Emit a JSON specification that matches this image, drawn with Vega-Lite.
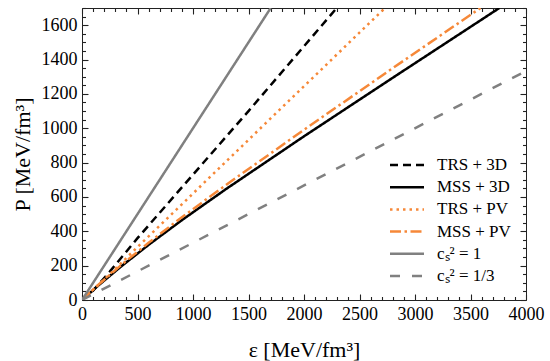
{
  "$schema": "https://vega.github.io/schema/vega-lite/v6.json",
  "width": 444,
  "height": 292,
  "autosize": {"type": "none"},
  "padding": {"left": 82, "top": 8, "right": 24, "bottom": 61},
  "config": {
    "view": {"stroke": "#222", "strokeWidth": 1},
    "axis": {
      "grid": false, "domain": false, "ticks": true, "zindex": 1,
      "labelFont": "Liberation Serif", "titleFont": "Liberation Serif",
      "labelFontSize": 18, "titleFontSize": 22,
      "labelColor": "#000", "titleColor": "#000", "tickColor": "#222",
      "titleFontWeight": "normal", "tickWidth": 1.1, "labelFlush": false
    }
  },
  "data": {"values": [
    {"series": "TRS + 3D", "eps": 0, "P": 0},
    {"series": "TRS + 3D", "eps": 100, "P": 55},
    {"series": "TRS + 3D", "eps": 250, "P": 165},
    {"series": "TRS + 3D", "eps": 500, "P": 360},
    {"series": "TRS + 3D", "eps": 1000, "P": 730},
    {"series": "TRS + 3D", "eps": 1500, "P": 1100},
    {"series": "TRS + 3D", "eps": 2295, "P": 1700},
    {"series": "MSS + 3D", "eps": 0, "P": 0},
    {"series": "MSS + 3D", "eps": 150, "P": 86},
    {"series": "MSS + 3D", "eps": 350, "P": 194},
    {"series": "MSS + 3D", "eps": 600, "P": 321},
    {"series": "MSS + 3D", "eps": 900, "P": 465},
    {"series": "MSS + 3D", "eps": 1300, "P": 647},
    {"series": "MSS + 3D", "eps": 2000, "P": 953},
    {"series": "MSS + 3D", "eps": 2800, "P": 1294},
    {"series": "MSS + 3D", "eps": 3760, "P": 1700},
    {"series": "TRS + PV", "eps": 0, "P": 0},
    {"series": "TRS + PV", "eps": 250, "P": 150},
    {"series": "TRS + PV", "eps": 500, "P": 308},
    {"series": "TRS + PV", "eps": 1000, "P": 620},
    {"series": "TRS + PV", "eps": 1600, "P": 995},
    {"series": "TRS + PV", "eps": 2730, "P": 1700},
    {"series": "MSS + PV", "eps": 0, "P": 0},
    {"series": "MSS + PV", "eps": 150, "P": 90},
    {"series": "MSS + PV", "eps": 350, "P": 202},
    {"series": "MSS + PV", "eps": 600, "P": 333},
    {"series": "MSS + PV", "eps": 900, "P": 482},
    {"series": "MSS + PV", "eps": 1300, "P": 671},
    {"series": "MSS + PV", "eps": 2000, "P": 991},
    {"series": "MSS + PV", "eps": 2800, "P": 1350},
    {"series": "MSS + PV", "eps": 3590, "P": 1700},
    {"series": "cₛ² = 1", "eps": 0, "P": 0},
    {"series": "cₛ² = 1", "eps": 1700, "P": 1700},
    {"series": "cₛ² = 1/3", "eps": 0, "P": 0},
    {"series": "cₛ² = 1/3", "eps": 4000, "P": 1333.3}
  ]},
  "layer": [
    {
      "mark": {"type": "line", "clip": true, "strokeWidth": 2.5},
      "encoding": {
        "x": {"field": "eps", "type": "quantitative",
          "scale": {"domain": [0, 4000], "nice": false, "zero": false},
          "axis": {"orient": "bottom", "values": [0, 500, 1000, 1500, 2000, 2500, 3000, 3500, 4000], "format": "d",
            "labelFont": "Liberation Serif", "titleFont": "Liberation Serif", "labelFontSize": 18, "titleFontSize": 22,
            "offset": -6, "tickSize": 6, "labelPadding": 5, "title": "ε [MeV/fm³]",
            "titleX": 222, "titleY": 55, "titleBaseline": "middle", "titleAlign": "center"}},
        "y": {"field": "P", "type": "quantitative",
          "scale": {"domain": [0, 1700], "nice": false, "zero": false},
          "axis": {"orient": "left", "values": [0, 200, 400, 600, 800, 1000, 1200, 1400, 1600], "format": "d",
            "labelFont": "Liberation Serif", "titleFont": "Liberation Serif", "labelFontSize": 18, "titleFontSize": 22,
            "offset": -6, "tickSize": 6, "labelPadding": 5, "title": "P [MeV/fm³]",
            "titleX": -66, "titleY": 146, "titleAngle": -90, "titleBaseline": "middle", "titleAlign": "center"}},
        "color": {"field": "series", "type": "nominal",
          "scale": {"domain": ["TRS + 3D", "MSS + 3D", "TRS + PV", "MSS + PV", "cₛ² = 1", "cₛ² = 1/3"],
            "range": ["#000000", "#000000", "#f68838", "#f68838", "#808080", "#808080"]},
          "legend": {"title": null, "orient": "none", "legendX": 315, "legendY": 147,
            "symbolType": "M-2,0H2", "symbolSize": 289, "symbolStrokeWidth": 2.5,
            "labelFont": "Liberation Serif", "labelFontSize": 17, "labelColor": "#000",
            "labelOffset": 20, "rowPadding": 4.2, "padding": 0, "labelLimit": 300}},
        "strokeDash": {"field": "series", "type": "nominal",
          "scale": {"domain": ["TRS + 3D", "MSS + 3D", "TRS + PV", "MSS + PV", "cₛ² = 1", "cₛ² = 1/3"],
            "range": [[8, 5], [1, 0], [2.5, 4], [11, 3.5, 2.5, 3.5], [1, 0], [10, 12]]},
          "legend": {"title": null, "orient": "none", "legendX": 315, "legendY": 147,
            "symbolType": "M-2,0H2", "symbolSize": 289, "symbolStrokeWidth": 2.5,
            "labelFont": "Liberation Serif", "labelFontSize": 17, "labelColor": "#000",
            "labelOffset": 20, "rowPadding": 4.2, "padding": 0, "labelLimit": 300}}
      }
    },
    {
      "mark": {"type": "point", "opacity": 0},
      "encoding": {
        "x": {"field": "eps", "type": "quantitative",
          "scale": {"domain": [0, 4000], "nice": false, "zero": false},
          "axis": {"orient": "top", "values": [0, 500, 1000, 1500, 2000, 2500, 3000, 3500, 4000],
            "offset": -6, "tickSize": 6, "labels": false, "title": null}},
        "y": {"field": "P", "type": "quantitative",
          "scale": {"domain": [0, 1700], "nice": false, "zero": false},
          "axis": {"orient": "right", "values": [0, 200, 400, 600, 800, 1000, 1200, 1400, 1600],
            "offset": -6, "tickSize": 6, "labels": false, "title": null}}
      }
    },
    {
      "mark": {"type": "point", "opacity": 0},
      "encoding": {
        "x": {"field": "eps", "type": "quantitative",
          "scale": {"domain": [0, 4000], "nice": false, "zero": false},
          "axis": {"orient": "bottom", "values": [100, 200, 300, 400, 600, 700, 800, 900, 1100, 1200, 1300, 1400, 1600, 1700, 1800, 1900, 2100, 2200, 2300, 2400, 2600, 2700, 2800, 2900, 3100, 3200, 3300, 3400, 3600, 3700, 3800, 3900],
            "offset": -3.5, "tickSize": 3.5, "labels": false, "title": null}},
        "y": {"field": "P", "type": "quantitative",
          "scale": {"domain": [0, 1700], "nice": false, "zero": false},
          "axis": {"orient": "left", "values": [50, 100, 150, 250, 300, 350, 450, 500, 550, 650, 700, 750, 850, 900, 950, 1050, 1100, 1150, 1250, 1300, 1350, 1450, 1500, 1550, 1650, 1700],
            "offset": -3.5, "tickSize": 3.5, "labels": false, "title": null}}
      }
    },
    {
      "mark": {"type": "point", "opacity": 0},
      "encoding": {
        "x": {"field": "eps", "type": "quantitative",
          "scale": {"domain": [0, 4000], "nice": false, "zero": false},
          "axis": {"orient": "top", "values": [100, 200, 300, 400, 600, 700, 800, 900, 1100, 1200, 1300, 1400, 1600, 1700, 1800, 1900, 2100, 2200, 2300, 2400, 2600, 2700, 2800, 2900, 3100, 3200, 3300, 3400, 3600, 3700, 3800, 3900],
            "offset": -3.5, "tickSize": 3.5, "labels": false, "title": null}},
        "y": {"field": "P", "type": "quantitative",
          "scale": {"domain": [0, 1700], "nice": false, "zero": false},
          "axis": {"orient": "right", "values": [50, 100, 150, 250, 300, 350, 450, 500, 550, 650, 700, 750, 850, 900, 950, 1050, 1100, 1150, 1250, 1300, 1350, 1450, 1500, 1550, 1650, 1700],
            "offset": -3.5, "tickSize": 3.5, "labels": false, "title": null}}
      }
    }
  ],
  "resolve": {"axis": {"x": "independent", "y": "independent"}}
}
